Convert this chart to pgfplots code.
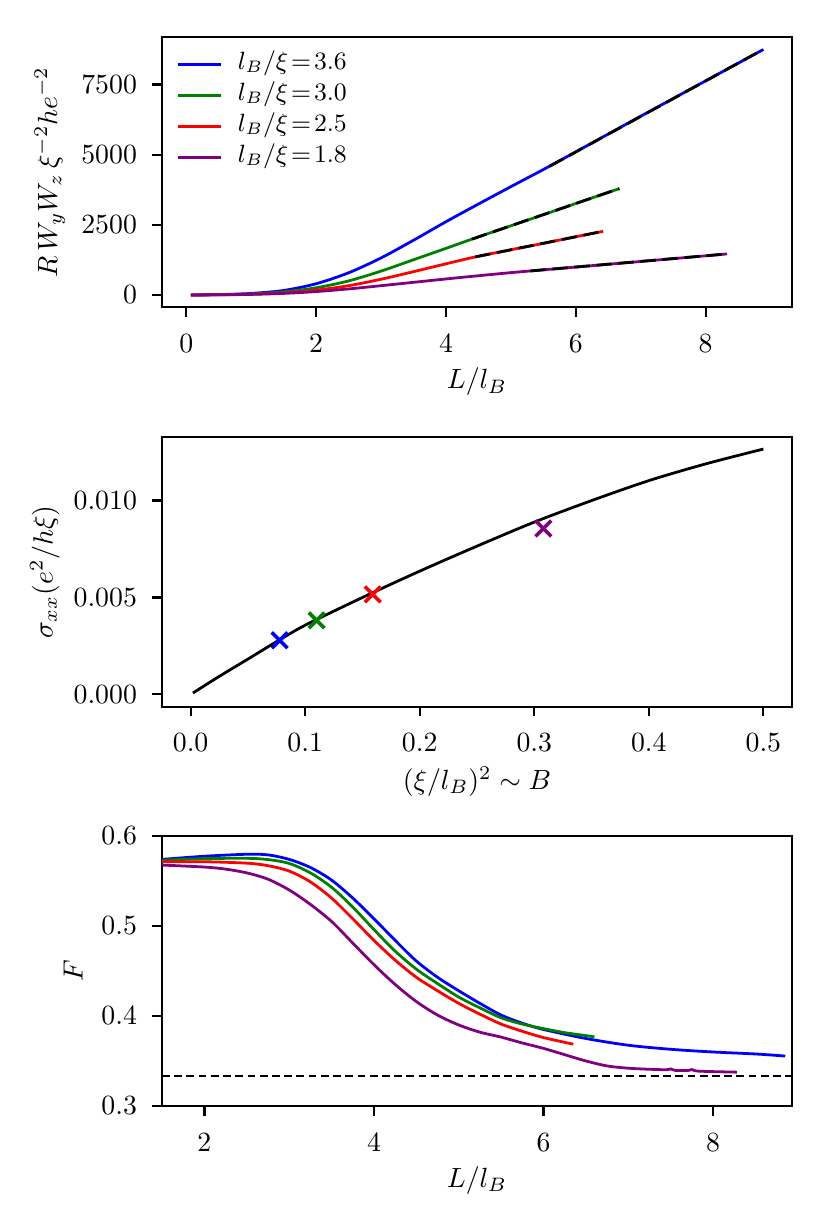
\documentclass[border=0pt]{standalone}
\usepackage{pgfplots}
\pgfplotsset{compat=1.18}
\definecolor{mgreen}{rgb}{0,0.5,0}
\definecolor{mpurple}{rgb}{0.5,0,0.5}
\pgfplotsset{
 myax/.style={
  scale only axis, width=226.8pt, height=97.2pt,
  anchor=south west,
  axis line style={line width=0.8pt},
  tick align=outside, major tick length=3.5pt,
  every tick/.style={black, line width=0.8pt},
  xtick pos=bottom, ytick pos=left,
  scaled ticks=false,
  /pgf/number format/1000 sep={},
  tick label style={font=\fontsize{10}{12}\selectfont},
  xticklabel style={yshift=-2.8pt},
  yticklabel style={xshift=-2pt},
  label style={font=\fontsize{10}{12}\selectfont},
  xlabel style={at={(axis description cs:0.5,-0.277)}, anchor=center},
 },
 cl/.style={line width=1pt, smooth, tension=0.5},
 fit/.style={black, line width=1pt, dash pattern=on 5.55pt off 2.4pt},
}
\begin{document}
\begin{tikzpicture}
\useasboundingbox (0,0) rectangle (298.8pt,441pt);
% ---------------- top axis
\begin{axis}[myax, at={(58.32pt,330.4pt)},
  xmin=-0.375, xmax=9.33, ymin=-437, ymax=9185,
  xtick={0,2,4,6,8}, ytick={0,2500,5000,7500},
  xlabel={$L/l_B$},
  ylabel={$R\,W_yW_z\,\xi^{-2}he^{-2}$},
  ylabel style={at={(axis description cs:-0.178,0.5)}, anchor=center},
  legend style={at={(axis description cs:0.0,1.0)}, anchor=north west,
    draw=none, fill=none, font=\fontsize{9.2}{11}\selectfont,
    row sep=3.4pt, column sep=2.6pt, inner xsep=5pt, inner ysep=5.6pt,
    nodes={inner ysep=0pt, inner xsep=3pt, text height=5.8pt, text depth=2pt}},
  legend cell align=left,
  legend image code/.code={\draw[#1] (0pt,0pt) -- (15.5pt,0pt);},
]
\addplot[cl, blue] coordinates {(0.07,0) (0.5,12) (1.0,55) (1.5,160) (2.0,400) (2.5,790) (3.0,1320) (3.5,1950) (4.0,2610) (4.5,3240) (5.0,3860) (5.5,4470) (6.0,5100) (7.0,6370) (8.0,7630) (8.89,8748)};
\addlegendentry{$l_B/\xi\!=\!3.6$}
\addplot[cl, mgreen] coordinates {(0.07,0) (0.5,8) (1.0,35) (1.5,110) (2.0,255) (2.5,500) (3.0,850) (3.5,1255) (4.0,1660) (4.4,1990) (5.0,2465) (5.5,2860) (6.0,3260) (6.67,3790)};
\addlegendentry{$l_B/\xi\!=\!3.0$}
\addplot[cl, red] coordinates {(0.07,0) (0.5,6) (1.0,27) (1.5,75) (2.0,170) (2.5,330) (3.0,560) (3.5,830) (4.0,1110) (4.45,1355) (5.0,1610) (5.5,1840) (6.0,2075) (6.42,2268)};
\addlegendentry{$l_B/\xi\!=\!2.5$}
\addplot[cl, mpurple] coordinates {(0.07,0) (0.5,5) (1.0,20) (1.5,55) (2.0,120) (2.5,215) (3.0,330) (3.5,450) (4.0,570) (4.5,685) (5.0,795) (5.5,895) (6.0,995) (7.0,1193) (8.33,1462)};
\addlegendentry{$l_B/\xi\!=\!1.8$}
\addplot[fit, forget plot] coordinates {(5.6,4590) (8.78,8615)};
\addplot[fit, forget plot] coordinates {(4.4,1990) (6.67,3790)};
\addplot[fit, forget plot] coordinates {(4.45,1355) (6.42,2268)};
\addplot[fit, forget plot] coordinates {(5.3,855) (8.33,1462)};
\end{axis}
% ---------------- middle axis
\begin{axis}[myax, at={(58.32pt,186.6pt)},
  xmin=-0.025, xmax=0.525, ymin=-0.000634, ymax=0.0133,
  xtick={0,0.1,0.2,0.3,0.4,0.5}, ytick={0,0.005,0.01},
  xticklabel style={/pgf/number format/.cd, fixed, fixed zerofill, precision=1},
  yticklabel style={/pgf/number format/.cd, fixed, fixed zerofill, precision=3},
  xlabel={$(\xi/l_B)^2\sim B$},
  ylabel={$\sigma_{xx}(e^2/h\xi)$},
  ylabel style={at={(axis description cs:-0.186,0.5)}, anchor=center},
]
\addplot[black, line width=1pt, smooth, tension=0.5] coordinates {(0.002,0.00007) (0.025,0.00093) (0.05,0.00182) (0.075,0.00272) (0.1,0.00357) (0.15,0.00500) (0.2,0.00636) (0.25,0.00765) (0.3,0.00889) (0.35,0.01000) (0.4,0.01103) (0.45,0.01190) (0.5,0.01266)};
\addplot[only marks, mark=x, mark size=4pt, line width=1.3pt, blue] coordinates {(0.0777,0.00279)};
\addplot[only marks, mark=x, mark size=4pt, line width=1.3pt, mgreen] coordinates {(0.110,0.00382)};
\addplot[only marks, mark=x, mark size=4pt, line width=1.3pt, red] coordinates {(0.159,0.00516)};
\addplot[only marks, mark=x, mark size=4pt, line width=1.3pt, mpurple] coordinates {(0.308,0.00856)};
\end{axis}
% ---------------- bottom axis
\begin{axis}[myax, at={(58.32pt,42.84pt)},
  xmin=1.5, xmax=8.93, ymin=0.3, ymax=0.6,
  xtick={2,4,6,8}, ytick={0.3,0.4,0.5,0.6},
  yticklabel style={/pgf/number format/.cd, fixed, fixed zerofill, precision=1},
  xlabel={$L/l_B$},
  ylabel={$F$},
  ylabel style={at={(axis description cs:-0.141,0.5)}, anchor=center},
]
\addplot[cl, blue] coordinates {(1.5,0.574) (2.0,0.5775) (2.5,0.5797) (2.75,0.5790) (3.0,0.574) (3.25,0.565) (3.5,0.551) (3.75,0.531) (4.0,0.508) (4.25,0.484) (4.5,0.461) (4.75,0.443) (5.0,0.428) (5.25,0.414) (5.5,0.401) (5.75,0.392) (6.0,0.385) (6.5,0.375) (7.0,0.3675) (7.5,0.363) (8.0,0.360) (8.5,0.3578) (8.85,0.3555)};
\addplot[cl, mgreen] coordinates {(1.5,0.573) (2.0,0.5748) (2.5,0.5752) (2.75,0.5738) (3.0,0.5695) (3.25,0.559) (3.5,0.543) (3.75,0.521) (4.0,0.496) (4.25,0.472) (4.5,0.452) (4.75,0.436) (5.0,0.421) (5.25,0.409) (5.5,0.398) (5.75,0.391) (6.0,0.386) (6.25,0.3815) (6.6,0.3769)};
\addplot[cl, red] coordinates {(1.5,0.5714) (2.0,0.5714) (2.5,0.5698) (2.75,0.567) (3.0,0.561) (3.25,0.549) (3.5,0.531) (3.75,0.508) (4.0,0.484) (4.25,0.462) (4.5,0.443) (4.75,0.428) (5.0,0.414) (5.25,0.402) (5.5,0.391) (5.75,0.383) (6.0,0.376) (6.35,0.3687)};
\addplot[cl, mpurple] coordinates {(1.5,0.5677) (2.0,0.5655) (2.25,0.5632) (2.5,0.5590) (2.75,0.552) (3.0,0.540) (3.25,0.524) (3.5,0.505) (3.75,0.481) (4.0,0.457) (4.25,0.435) (4.5,0.416) (4.75,0.401) (5.0,0.390) (5.25,0.382) (5.5,0.3765) (5.75,0.370) (6.0,0.364) (6.25,0.357) (6.5,0.350) (6.75,0.3445) (7.0,0.342) (7.25,0.3408) (7.45,0.3403) (7.5,0.3412) (7.55,0.3396) (7.7,0.3394) (7.75,0.3405) (7.8,0.3389) (8.0,0.3382) (8.28,0.3376)};
\addplot[black, line width=0.8pt, dash pattern=on 2.8pt off 1.6pt] coordinates {(1.5,0.33333) (8.93,0.33333)};
\end{axis}
\end{tikzpicture}
\end{document}
